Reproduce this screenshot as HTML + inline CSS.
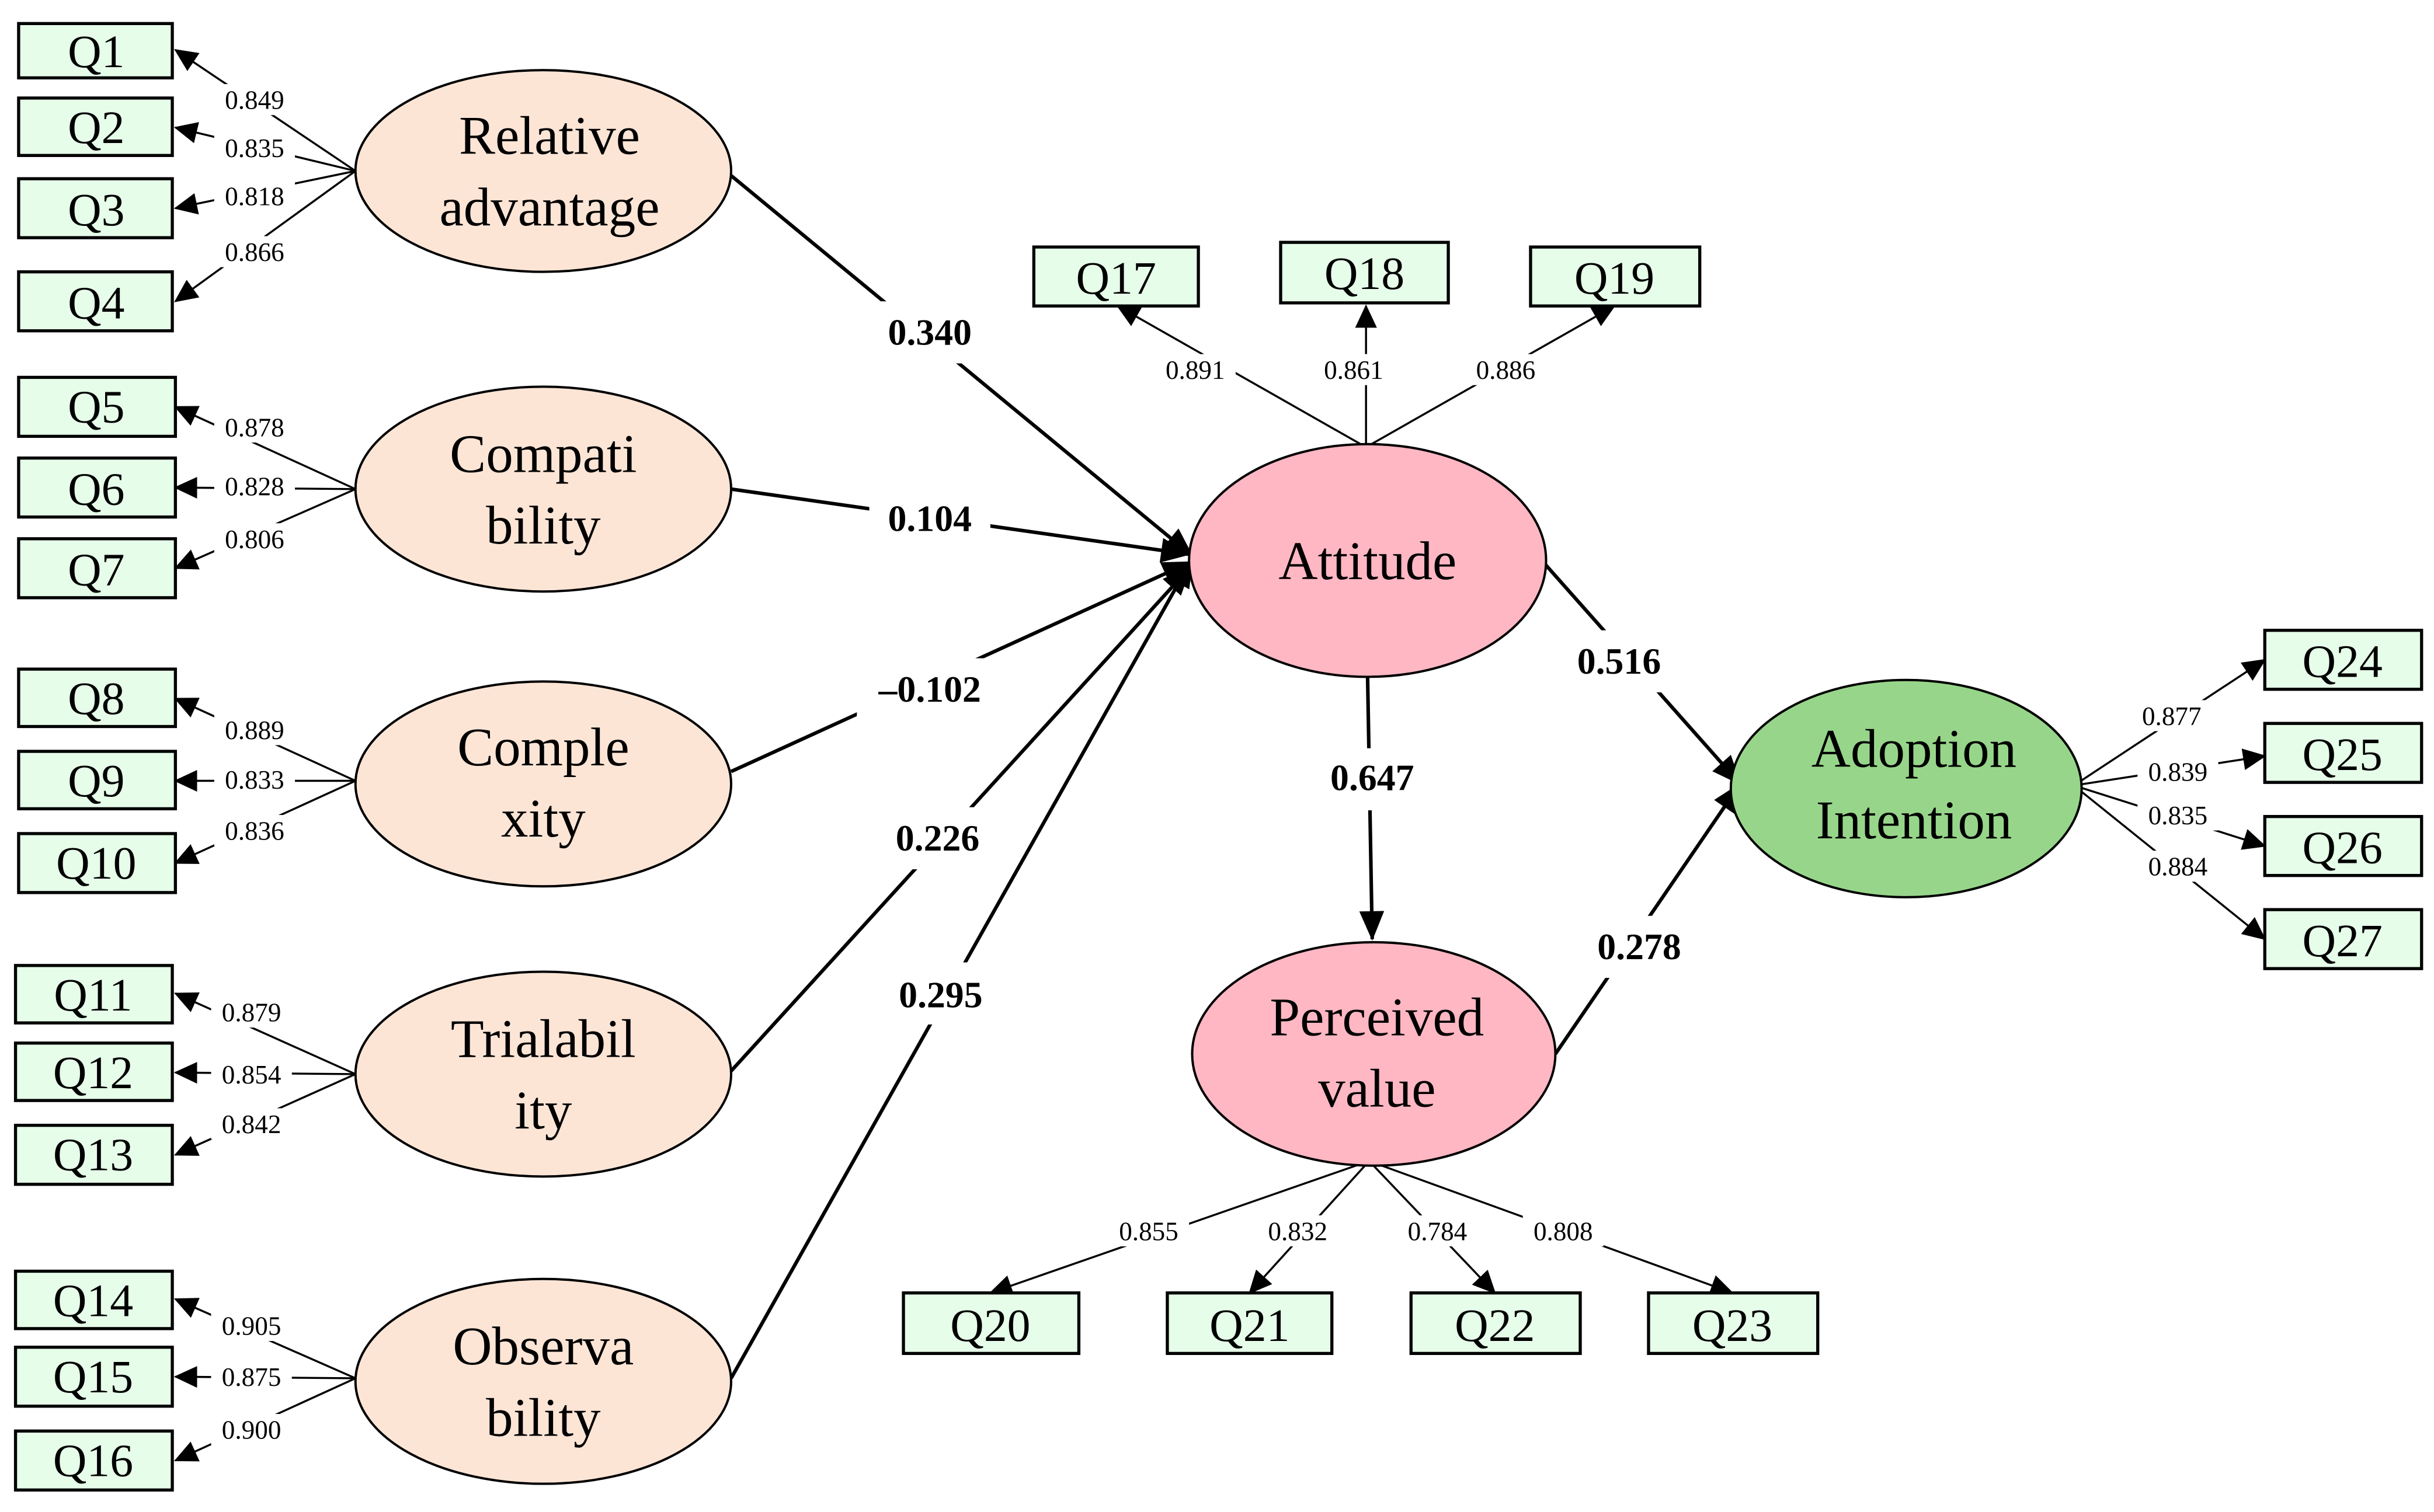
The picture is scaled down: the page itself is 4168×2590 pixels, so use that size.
<!DOCTYPE html>
<html><head><meta charset="utf-8"><style>html,body{margin:0;padding:0;background:#fff}svg{display:block}</style></head>
<body>
<svg width="4168" height="2590" viewBox="0 0 1568 974" xmlns="http://www.w3.org/2000/svg" font-family="Liberation Serif, serif">
<defs>
<marker id="a" markerUnits="userSpaceOnUse" markerWidth="16" markerHeight="14" refX="14" refY="7" orient="auto"><path d="M0,0 L15,7 L0,14 Z" fill="#000"/></marker>
<marker id="b" markerUnits="userSpaceOnUse" markerWidth="20" markerHeight="16" refX="18" refY="8" orient="auto"><path d="M0,0 L19,8 L0,16 Z" fill="#000"/></marker>
</defs>
<rect width="1568" height="974" fill="#fff"/>
<g stroke="#000" stroke-width="1.3" fill="none" marker-end="url(#a)">
<line x1="229" y1="110" x2="113" y2="32"/><line x1="229" y1="110" x2="113" y2="82"/><line x1="229" y1="110" x2="113" y2="134"/><line x1="229" y1="110" x2="113" y2="194"/>
<line x1="229" y1="315" x2="113" y2="262"/><line x1="229" y1="315" x2="113" y2="314"/><line x1="229" y1="315" x2="113" y2="366"/>
<line x1="229" y1="503" x2="113" y2="450"/><line x1="229" y1="503" x2="113" y2="503"/><line x1="229" y1="503" x2="113" y2="556"/>
<line x1="229" y1="692" x2="113" y2="640"/><line x1="229" y1="692" x2="113" y2="691"/><line x1="229" y1="692" x2="113" y2="744"/>
<line x1="229" y1="888" x2="113" y2="837"/><line x1="229" y1="888" x2="113" y2="887"/><line x1="229" y1="888" x2="113" y2="941"/>
<line x1="880" y1="288" x2="720" y2="197"/><line x1="880" y1="288" x2="880" y2="197"/><line x1="880" y1="288" x2="1040" y2="197"/>
<line x1="882" y1="748" x2="638" y2="833"/><line x1="882" y1="748" x2="805" y2="833"/><line x1="882" y1="748" x2="963" y2="833"/><line x1="882" y1="748" x2="1116" y2="833"/>
<line x1="1336" y1="506" x2="1459" y2="425"/><line x1="1336" y1="506" x2="1459" y2="487"/><line x1="1336" y1="506" x2="1459" y2="545"/><line x1="1336" y1="506" x2="1459" y2="605"/>
</g>
<g stroke="#000" stroke-width="2.3" fill="none" marker-end="url(#b)">
<line x1="471" y1="113" x2="768" y2="358"/><line x1="471" y1="315" x2="766" y2="357"/><line x1="471" y1="497" x2="767" y2="362"/><line x1="471" y1="690" x2="767" y2="365"/><line x1="471" y1="888" x2="768" y2="360"/>
<line x1="995" y1="363" x2="1121" y2="505"/><line x1="881" y1="435" x2="884" y2="605"/><line x1="1002" y1="679" x2="1121" y2="505"/>
</g>
<g fill="#e6fde9" stroke="#000" stroke-width="2">
<rect x="12" y="15" width="99" height="35"/><rect x="12" y="63" width="99" height="37"/><rect x="12" y="115" width="99" height="38"/><rect x="12" y="175" width="99" height="38"/>
<rect x="12" y="243" width="101" height="38"/><rect x="12" y="295" width="101" height="38"/><rect x="12" y="347" width="101" height="38"/>
<rect x="12" y="431" width="101" height="37"/><rect x="12" y="484" width="101" height="37"/><rect x="12" y="537" width="101" height="38"/>
<rect x="10" y="622" width="101" height="37"/><rect x="10" y="672" width="101" height="37"/><rect x="10" y="725" width="101" height="38"/>
<rect x="10" y="819" width="101" height="37"/><rect x="10" y="868" width="101" height="38"/><rect x="10" y="922" width="101" height="38"/>
<rect x="666" y="159" width="106" height="38"/><rect x="825" y="156" width="108" height="39"/><rect x="986" y="159" width="109" height="38"/>
<rect x="582" y="833" width="113" height="39"/><rect x="752" y="833" width="106" height="39"/><rect x="909" y="833" width="109" height="39"/><rect x="1062" y="833" width="109" height="39"/>
<rect x="1459" y="406" width="101" height="38"/><rect x="1459" y="466" width="101" height="38"/><rect x="1459" y="526" width="101" height="38"/><rect x="1459" y="586" width="101" height="38"/>
</g>
<g font-size="30" text-anchor="middle">
<text x="62" y="43">Q1</text><text x="62" y="92">Q2</text><text x="62" y="145">Q3</text><text x="62" y="205">Q4</text>
<text x="62" y="272">Q5</text><text x="62" y="325">Q6</text><text x="62" y="377">Q7</text>
<text x="62" y="460">Q8</text><text x="62" y="513">Q9</text><text x="62" y="566">Q10</text>
<text x="60" y="651">Q11</text><text x="60" y="701">Q12</text><text x="60" y="754">Q13</text>
<text x="60" y="848">Q14</text><text x="60" y="897">Q15</text><text x="60" y="951">Q16</text>
<text x="719" y="189">Q17</text><text x="879" y="186">Q18</text><text x="1040" y="189">Q19</text>
<text x="638" y="864">Q20</text><text x="805" y="864">Q21</text><text x="963" y="864">Q22</text><text x="1116" y="864">Q23</text>
<text x="1509" y="436">Q24</text><text x="1509" y="496">Q25</text><text x="1509" y="556">Q26</text><text x="1509" y="616">Q27</text>
</g>
<g stroke="#000" stroke-width="1.5">
<ellipse cx="350" cy="110" rx="121" ry="65" fill="#fde5d6"/><ellipse cx="350" cy="315" rx="121" ry="66" fill="#fde5d6"/><ellipse cx="350" cy="505" rx="121" ry="66" fill="#fde5d6"/><ellipse cx="350" cy="692" rx="121" ry="66" fill="#fde5d6"/><ellipse cx="350" cy="890" rx="121" ry="66" fill="#fde5d6"/>
<ellipse cx="881" cy="361" rx="115" ry="75" fill="#feb7c3"/><ellipse cx="885" cy="679" rx="117" ry="72" fill="#feb7c3"/><ellipse cx="1228" cy="508" rx="113" ry="70" fill="#97d68a"/>
</g>
<g font-size="35" text-anchor="middle">
<text x="354" y="99">Relative</text><text x="354" y="145">advantage</text>
<text x="350" y="304">Compati</text><text x="350" y="350">bility</text>
<text x="350" y="493">Comple</text><text x="350" y="539">xity</text>
<text x="350" y="681">Trialabil</text><text x="350" y="727">ity</text>
<text x="350" y="879">Observa</text><text x="350" y="925">bility</text>
<text x="881" y="373">Attitude</text>
<text x="887" y="667">Perceived</text><text x="887" y="713">value</text>
<text x="1233" y="494">Adoption</text><text x="1233" y="540">Intention</text>
</g>
<g fill="#fff">
<rect x="138" y="54" width="52" height="20"/><rect x="138" y="85" width="52" height="20"/><rect x="138" y="116" width="52" height="20"/><rect x="138" y="152" width="52" height="20"/>
<rect x="138" y="265" width="52" height="20"/><rect x="138" y="303" width="52" height="20"/><rect x="138" y="337" width="52" height="20"/>
<rect x="138" y="460" width="52" height="20"/><rect x="138" y="492" width="52" height="20"/><rect x="138" y="525" width="52" height="20"/>
<rect x="136" y="642" width="52" height="20"/><rect x="136" y="682" width="52" height="20"/><rect x="136" y="714" width="52" height="20"/>
<rect x="136" y="844" width="52" height="20"/><rect x="136" y="877" width="52" height="20"/><rect x="136" y="911" width="52" height="20"/>
<rect x="744" y="228" width="52" height="20"/><rect x="846" y="228" width="52" height="20"/><rect x="944" y="228" width="52" height="20"/>
<rect x="714" y="783" width="52" height="20"/><rect x="810" y="783" width="52" height="20"/><rect x="900" y="783" width="52" height="20"/><rect x="981" y="783" width="52" height="20"/>
<rect x="1373" y="451" width="52" height="20"/><rect x="1377" y="487" width="52" height="20"/><rect x="1377" y="515" width="52" height="20"/><rect x="1377" y="548" width="52" height="20"/>
<rect x="560" y="194" width="78" height="40"/><rect x="560" y="314" width="78" height="40"/><rect x="552" y="424" width="94" height="40"/><rect x="565" y="520" width="78" height="40"/><rect x="565" y="620" width="78" height="40"/>
<rect x="1005" y="406" width="76" height="40"/><rect x="846" y="482" width="76" height="40"/><rect x="1018" y="590" width="76" height="40"/>
</g>
<g font-size="17" text-anchor="middle">
<text x="164" y="70">0.849</text><text x="164" y="101">0.835</text><text x="164" y="132">0.818</text><text x="164" y="168">0.866</text>
<text x="164" y="281">0.878</text><text x="164" y="319">0.828</text><text x="164" y="353">0.806</text>
<text x="164" y="476">0.889</text><text x="164" y="508">0.833</text><text x="164" y="541">0.836</text>
<text x="162" y="658">0.879</text><text x="162" y="698">0.854</text><text x="162" y="730">0.842</text>
<text x="162" y="860">0.905</text><text x="162" y="893">0.875</text><text x="162" y="927">0.900</text>
<text x="770" y="244">0.891</text><text x="872" y="244">0.861</text><text x="970" y="244">0.886</text>
<text x="740" y="799">0.855</text><text x="836" y="799">0.832</text><text x="926" y="799">0.784</text><text x="1007" y="799">0.808</text>
<text x="1399" y="467">0.877</text><text x="1403" y="503">0.839</text><text x="1403" y="531">0.835</text><text x="1403" y="564">0.884</text>
</g>
<g font-size="24" font-weight="bold" text-anchor="middle">
<text x="599" y="222">0.340</text><text x="599" y="342">0.104</text><text x="599" y="452">–0.102</text><text x="604" y="548">0.226</text><text x="606" y="649">0.295</text>
<text x="1043" y="434">0.516</text><text x="884" y="509">0.647</text><text x="1056" y="618">0.278</text>
</g>
</svg>
</body></html>
